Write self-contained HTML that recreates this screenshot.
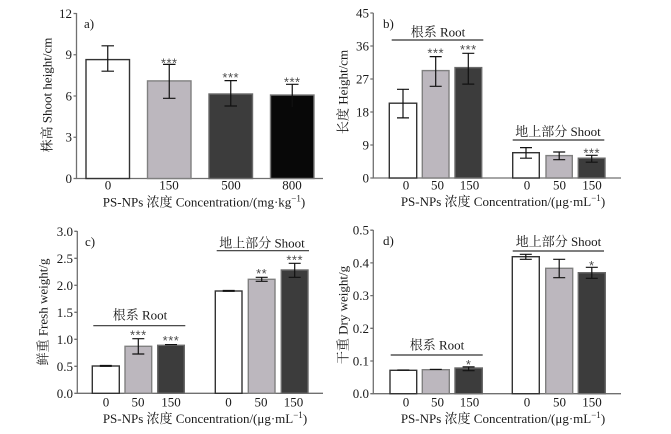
<!DOCTYPE html>
<html><head><meta charset="utf-8"><style>
html,body{margin:0;padding:0;background:#fff;}
svg{display:block;}
text{font-family:"Liberation Serif","Noto Serif CJK SC","Noto Sans CJK SC",serif;fill:#1a1a1a;}
.t{font-size:13px;}
.tk{font-size:13px;text-anchor:end;}
.xl{font-size:13px;text-anchor:middle;}
.st{font-family:"Liberation Sans",sans-serif;font-size:13px;fill:#4a4a4a;text-anchor:middle;letter-spacing:0.5px;}
.ax{stroke:#707070;stroke-width:1.3;fill:none;}
.eb{stroke:#111;stroke-width:1.2;fill:none;}
.w{fill:#fff;stroke:#333;stroke-width:1.4;}
.g{fill:#bcb7be;stroke:#808080;stroke-width:1.4;}
.d{fill:#3c3c3c;stroke:#6a6a6a;stroke-width:1.4;}
.k{fill:#080808;stroke:#7a7a7a;stroke-width:1.4;}
.ln{stroke:#333;stroke-width:1.2;}
</style></head><body>
<svg width="671" height="434" viewBox="0 0 671 434" xmlns="http://www.w3.org/2000/svg">
<!-- ===== Panel a ===== -->
<g>
<path class="ax" d="M76.5,13 V178.5 H323"/>
<path class="ax" d="M73.5,13.5H76.5 M73.5,54.75H76.5 M73.5,96H76.5 M73.5,137.25H76.5 M73.5,178.5H76.5"/>
<text class="tk" x="72" y="18">12</text>
<text class="tk" x="72" y="59">9</text>
<text class="tk" x="72" y="100.5">6</text>
<text class="tk" x="72" y="141.5">3</text>
<text class="tk" x="72" y="183">0</text>
<text class="t" x="84" y="28">a)</text>
<rect class="w" x="86" y="59.6" width="43.5" height="118.9"/>
<rect class="g" x="147.5" y="80.9" width="43.5" height="97.6"/>
<rect class="d" x="209" y="94" width="43.5" height="84.5"/>
<rect class="k" x="270.5" y="95" width="43.5" height="83.5"/>
<path class="eb" d="M107.75,45.8V71.2 M101.5,45.8H114 M101.5,71.2H114"/>
<path class="eb" d="M169.25,64.4V98.3 M163,64.4H175.5 M163,98.3H175.5"/>
<path class="eb" d="M230.75,80.6V106 M224.5,80.6H237 M224.5,106H237"/>
<path class="eb" d="M292.25,84.3V107 M286,84.3H298.5"/>
<text class="st" x="169.25" y="67.5">***</text>
<text class="st" x="230.75" y="82">***</text>
<text class="st" x="292.25" y="86.5">***</text>
<text class="xl" x="108" y="189.5">0</text>
<text class="xl" x="169" y="189.5">150</text>
<text class="xl" x="231" y="189.5">500</text>
<text class="xl" x="292" y="189.5">800</text>
<text class="xl" x="204" y="206.5">PS-NPs 浓度 Concentration/(mg·kg<tspan font-size="9" dy="-5">−1</tspan><tspan dy="5">)</tspan></text>
<text class="t" transform="translate(51.5,95) rotate(-90)" text-anchor="middle">株高 Shoot height/cm</text>
</g>
<!-- ===== Panel b ===== -->
<g>
<path class="ax" d="M373.3,13 V178 H621"/>
<path class="ax" d="M370.3,13H373.3 M370.3,46H373.3 M370.3,79H373.3 M370.3,112H373.3 M370.3,145H373.3 M370.3,178H373.3"/>
<text class="tk" x="369" y="17.5">45</text>
<text class="tk" x="369" y="50.5">36</text>
<text class="tk" x="369" y="83.5">27</text>
<text class="tk" x="369" y="116.5">18</text>
<text class="tk" x="369" y="149.5">9</text>
<text class="tk" x="369" y="182.5">0</text>
<text class="t" x="383" y="28">b)</text>
<line class="ln" x1="391.7" y1="40" x2="483.3" y2="40"/>
<text class="xl" x="438" y="36.5">根系 Root</text>
<line class="ln" x1="512.7" y1="140" x2="604.3" y2="140"/>
<text class="xl" x="558" y="136">地上部分 Shoot</text>
<rect class="w" x="389.3" y="103.2" width="27.4" height="74.8"/>
<rect class="g" x="422.3" y="70.6" width="26.7" height="107.4"/>
<rect class="d" x="455" y="67.6" width="26.7" height="110.4"/>
<rect class="w" x="512.7" y="152.7" width="26.6" height="25.3"/>
<rect class="g" x="546" y="155.6" width="26.3" height="22.4"/>
<rect class="d" x="578.3" y="158.2" width="26.7" height="19.8"/>
<path class="eb" d="M403,89.3V117.9 M397,89.3H409 M397,117.9H409"/>
<path class="eb" d="M435.7,56.6V86.3 M429.7,56.6H441.7 M429.7,86.3H441.7"/>
<path class="eb" d="M468.3,53.3V84.1 M462.3,53.3H474.3 M462.3,84.1H474.3"/>
<path class="eb" d="M526,147.6V158.2 M520,147.6H532 M520,158.2H532"/>
<path class="eb" d="M559.2,152V159.7 M553.2,152H565.2 M553.2,159.7H565.2"/>
<path class="eb" d="M591.7,155.3V162.2 M585.7,155.3H597.7 M585.7,162.2H597.7"/>
<text class="st" x="435.7" y="57.5">***</text>
<text class="st" x="468.3" y="54">***</text>
<text class="st" x="591.7" y="157.5">***</text>
<text class="xl" x="406" y="189.5">0</text>
<text class="xl" x="437.5" y="189.5">50</text>
<text class="xl" x="469.5" y="189.5">150</text>
<text class="xl" x="527" y="189.5">0</text>
<text class="xl" x="559.5" y="189.5">50</text>
<text class="xl" x="592" y="189.5">150</text>
<text class="xl" x="503" y="206">PS-NPs 浓度 Concentration/(μg·mL<tspan font-size="9" dy="-5">−1</tspan><tspan dy="5">)</tspan></text>
<text class="t" transform="translate(347.5,92) rotate(-90)" text-anchor="middle">长度 Height/cm</text>
</g>
<!-- ===== Panel c ===== -->
<g>
<path class="ax" d="M77.3,231 V393.3 H323"/>
<path class="ax" d="M74.3,231.3H77.3 M74.3,258.3H77.3 M74.3,285.3H77.3 M74.3,312.3H77.3 M74.3,339.3H77.3 M74.3,366.3H77.3 M74.3,393.3H77.3"/>
<text class="tk" x="73" y="235.8">3.0</text>
<text class="tk" x="73" y="262.8">2.5</text>
<text class="tk" x="73" y="289.8">2.0</text>
<text class="tk" x="73" y="316.8">1.5</text>
<text class="tk" x="73" y="343.8">1.0</text>
<text class="tk" x="73" y="370.8">0.5</text>
<text class="tk" x="73" y="397.8">0.0</text>
<text class="t" x="85" y="246">c)</text>
<line class="ln" x1="93.3" y1="325.7" x2="185.3" y2="325.7"/>
<text class="xl" x="140" y="319.5">根系 Root</text>
<line class="ln" x1="216.7" y1="250.7" x2="309" y2="250.7"/>
<text class="xl" x="262" y="247.5">地上部分 Shoot</text>
<rect class="w" x="92.3" y="366" width="27" height="27.3"/>
<rect class="g" x="125" y="346.3" width="26.7" height="47"/>
<rect class="d" x="157.7" y="345.3" width="26.6" height="48"/>
<rect class="w" x="215.3" y="291" width="26.7" height="102.3"/>
<rect class="g" x="248.3" y="279.3" width="26.7" height="114"/>
<rect class="d" x="281.3" y="270" width="26.7" height="123.3"/>
<path class="eb" d="M99.8,365.5H111.8 M99.8,366.3H111.8"/>
<path class="eb" d="M138.3,338.7V354 M132.3,338.7H144.3 M132.3,354H144.3"/>
<path class="eb" d="M165,344.6H177"/>
<path class="eb" d="M222.7,290.5H234.7 M222.7,291.3H234.7"/>
<path class="eb" d="M261.7,277.3V281.3 M255.7,277.3H267.7 M255.7,281.3H267.7"/>
<path class="eb" d="M294.7,263.3V277.3 M288.7,263.3H300.7 M288.7,277.3H300.7"/>
<text class="st" x="138.3" y="339.5">***</text>
<text class="st" x="171" y="345">***</text>
<text class="st" x="261.7" y="278">**</text>
<text class="st" x="294.7" y="264.5">***</text>
<text class="xl" x="106" y="406.5">0</text>
<text class="xl" x="138" y="406.5">50</text>
<text class="xl" x="171" y="406.5">150</text>
<text class="xl" x="228.5" y="406.5">0</text>
<text class="xl" x="261" y="406.5">50</text>
<text class="xl" x="293.5" y="406.5">150</text>
<text class="xl" x="205" y="423">PS-NPs 浓度 Concentration/(μg·mL<tspan font-size="9" dy="-5">−1</tspan><tspan dy="5">)</tspan></text>
<text class="t" transform="translate(47.5,312) rotate(-90)" text-anchor="middle">鲜重 Fresh weight/g</text>
</g>
<!-- ===== Panel d ===== -->
<g>
<path class="ax" d="M373.3,230 V393.7 H621"/>
<path class="ax" d="M370.3,230.2H373.3 M370.3,262.9H373.3 M370.3,295.6H373.3 M370.3,328.3H373.3 M370.3,361H373.3 M370.3,393.7H373.3"/>
<text class="tk" x="369" y="234.7">0.5</text>
<text class="tk" x="369" y="267.4">0.4</text>
<text class="tk" x="369" y="300.1">0.3</text>
<text class="tk" x="369" y="332.8">0.2</text>
<text class="tk" x="369" y="365.5">0.1</text>
<text class="tk" x="369" y="398.2">0.0</text>
<text class="t" x="383" y="245">d)</text>
<line class="ln" x1="390.7" y1="355" x2="482.7" y2="355"/>
<text class="xl" x="437" y="349.5">根系 Root</text>
<line class="ln" x1="512.7" y1="251" x2="604" y2="251"/>
<text class="xl" x="558.5" y="246">地上部分 Shoot</text>
<rect class="w" x="390" y="370.3" width="26.7" height="23.4"/>
<rect class="g" x="422.3" y="369.7" width="27" height="24"/>
<rect class="d" x="455" y="368" width="27.3" height="25.7"/>
<rect class="w" x="512.3" y="256.7" width="27" height="137"/>
<rect class="g" x="545.7" y="268.3" width="27" height="125.4"/>
<rect class="d" x="578.3" y="272.7" width="27" height="121"/>
<path class="eb" d="M397.3,370H409.3"/>
<path class="eb" d="M429.8,369.4H441.8"/>
<path class="eb" d="M468.6,366.9V370.7 M462.6,366.9H474.6 M462.6,370.7H474.6"/>
<path class="eb" d="M525.8,254.3V259.3 M519.8,254.3H531.8 M519.8,259.3H531.8"/>
<path class="eb" d="M559.2,259.3V277.7 M553.2,259.3H565.2 M553.2,277.7H565.2"/>
<path class="eb" d="M591.8,267.3V278.3 M585.8,267.3H597.8 M585.8,278.3H597.8"/>
<text class="st" x="468.6" y="369">*</text>
<text class="st" x="591.8" y="270">*</text>
<text class="xl" x="406" y="406.5">0</text>
<text class="xl" x="437.5" y="406.5">50</text>
<text class="xl" x="469.5" y="406.5">150</text>
<text class="xl" x="527" y="406.5">0</text>
<text class="xl" x="559.5" y="406.5">50</text>
<text class="xl" x="592" y="406.5">150</text>
<text class="xl" x="503" y="423">PS-NPs 浓度 Concentration/(μg·mL<tspan font-size="9" dy="-5">−1</tspan><tspan dy="5">)</tspan></text>
<text class="t" transform="translate(347.5,315) rotate(-90)" text-anchor="middle">干重 Dry weight/g</text>
</g>
</svg>
</body></html>
